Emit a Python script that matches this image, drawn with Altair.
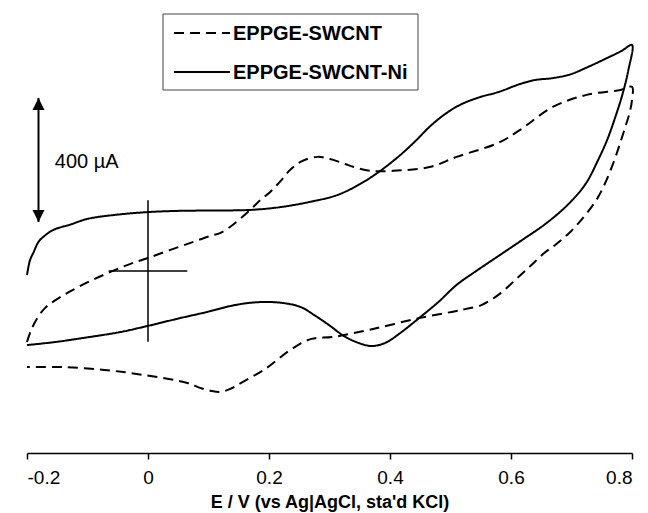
import altair as alt
import pandas as pd

# Cyclic voltammograms: potential (V vs Ag|AgCl) and current (µA), in scan order
ni_potential = [
    -0.200, -0.195, -0.189, -0.181, -0.173, -0.157, -0.128, -0.100, -0.054, 0.000,
    0.053, 0.103, 0.169, 0.219, 0.268, 0.313, 0.351, 0.384, 0.417, 0.442,
    0.467, 0.491, 0.516, 0.549, 0.579, 0.615, 0.640, 0.669, 0.698, 0.725,
    0.758, 0.783, 0.800,
    0.794, 0.784, 0.772, 0.759, 0.744, 0.723, 0.693, 0.657, 0.620, 0.579,
    0.541, 0.510, 0.480, 0.448, 0.417, 0.392, 0.369, 0.348, 0.324, 0.301,
    0.277, 0.252, 0.222, 0.194, 0.167, 0.136, 0.098, 0.053, 0.000, -0.046,
    -0.107, -0.153, -0.200,
]
ni_current = [
    -13, 35, 61, 94, 110, 132, 150, 168, 181, 190,
    194, 195, 197, 206, 223, 245, 281, 323, 374, 419,
    468, 506, 536, 561, 577, 603, 616, 622, 634, 656,
    686, 710, 729,
    648, 568, 494, 423, 358, 280, 212, 152, 102, 48,
    -2, -45, -100, -152, -200, -232, -242, -232, -210, -177,
    -145, -116, -103, -100, -103, -113, -132, -152, -177, -197,
    -216, -229, -239,
]

swcnt_potential = [
    -0.200, -0.193, -0.183, -0.170, -0.153, -0.128, -0.095, -0.062, -0.029, 0.000,
    0.037, 0.075, 0.103, 0.120, 0.141, 0.169, 0.186, 0.202, 0.219, 0.235,
    0.252, 0.280, 0.301, 0.326, 0.339, 0.367, 0.405, 0.467, 0.510, 0.579,
    0.615, 0.669, 0.725, 0.781, 0.800,
    0.800, 0.796, 0.789, 0.781, 0.771, 0.758, 0.743, 0.723, 0.698, 0.673,
    0.655, 0.632, 0.607, 0.579, 0.551, 0.524, 0.510, 0.448, 0.372, 0.305,
    0.270, 0.235, 0.196, 0.154, 0.136, 0.120, 0.103, 0.086, 0.065, -0.005,
    -0.072, -0.142, -0.200,
]
swcnt_current = [
    -229, -190, -152, -119, -94, -65, -32, -3, 23, 42,
    68, 94, 113, 123, 150, 197, 229, 255, 290, 326,
    352, 368, 361, 345, 336, 323, 323, 336, 368, 413,
    455, 529, 568, 584, 594,
    552, 510, 465, 416, 358, 294, 235, 181, 126, 84,
    58, 16, -29, -77, -110, -123, -129, -152, -187, -213,
    -219, -255, -313, -361, -380, -390, -386, -377, -361, -336,
    -319, -310, -310,
]

series_names = ["EPPGE-SWCNT", "EPPGE-SWCNT-Ni"]
series_dashes = [[10, 6], [1, 0]]

x_ticks = [-0.2, 0, 0.2, 0.4, 0.6, 0.8]
x_title = "E / V (vs Ag|AgCl, sta'd KCl)"
x_domain = [-0.2, 0.8]
y_domain = [-587, 832]

# 400 µA scale bar
scale_bar_potential = -0.181
scale_bar_start = 158
scale_bar_length = 400
scale_bar_label = "400 µA"
scale_label_potential = -0.154
scale_label_current = 352

# crosshair marking E = 0, I = 0
cross_potential = [-0.065, 0.065]
cross_current = [-228, 228]

FONT = "Liberation Sans"

rows = []
for name, pot, cur in [
    (series_names[0], swcnt_potential, swcnt_current),
    (series_names[1], ni_potential, ni_current),
]:
    for i, (e, c) in enumerate(zip(pot, cur)):
        rows.append({"series": name, "idx": i, "E": e, "I": c})
curves_df = pd.DataFrame(rows)

x_scale = alt.Scale(domain=x_domain, nice=False, zero=False)
y_scale = alt.Scale(domain=y_domain, nice=False, zero=False)

x_axis = alt.Axis(
    values=x_ticks,
    title=x_title,
    labelExpr="datum.value == 0 ? '0' : (datum.value < 0 ? '-' : '') + format(abs(datum.value), '.1f')",
    grid=False,
    domainColor="black",
    domainWidth=1.5,
    tickColor="black",
    tickWidth=1.5,
    tickSize=6,
    labelFont=FONT,
    labelFontSize=19,
    labelColor="black",
    labelPadding=9,
    titleFont=FONT,
    titleFontSize=18,
    titleFontWeight="bold",
    titleColor="black",
    titlePadding=6,
)

curves = (
    alt.Chart(curves_df)
    .mark_line(color="black", strokeWidth=2, interpolate="catmull-rom")
    .encode(
        x=alt.X("E:Q", scale=x_scale, axis=x_axis),
        y=alt.Y("I:Q", scale=y_scale, axis=None),
        strokeDash=alt.StrokeDash(
            "series:N",
            scale=alt.Scale(domain=series_names, range=series_dashes),
            legend=None,
        ),
        detail="series:N",
        order="idx:Q",
    )
)

# scale bar with arrowheads at both ends
bar_df = pd.DataFrame(
    {
        "E": [scale_bar_potential],
        "I0": [scale_bar_start],
        "I1": [scale_bar_start + scale_bar_length],
    }
)
bar_rule = (
    alt.Chart(bar_df)
    .mark_rule(color="black", strokeWidth=2)
    .encode(
        x=alt.X("E:Q", scale=x_scale),
        y=alt.Y("I0:Q", scale=y_scale),
        y2="I1:Q",
    )
)
heads_df = pd.DataFrame(
    {
        "E": [scale_bar_potential, scale_bar_potential],
        "I": [scale_bar_start + scale_bar_length, scale_bar_start],
        "dir": ["up", "down"],
    }
)
heads = (
    alt.Chart(heads_df)
    .mark_point(filled=True, color="black", opacity=1, size=576, strokeWidth=0)
    .encode(
        x=alt.X("E:Q", scale=x_scale),
        y=alt.Y("I:Q", scale=y_scale),
        shape=alt.Shape(
            "dir:N",
            scale=alt.Scale(
                domain=["up", "down"],
                range=["M0,0 L-0.5,1 L0.5,1 Z", "M0,0 L-0.5,-1 L0.5,-1 Z"],
            ),
            legend=None,
        ),
    )
)
bar_label = (
    alt.Chart(pd.DataFrame({"E": [scale_label_potential], "I": [scale_label_current], "t": [scale_bar_label]}))
    .mark_text(align="left", baseline="middle", font=FONT, fontSize=20, color="black")
    .encode(x=alt.X("E:Q", scale=x_scale), y=alt.Y("I:Q", scale=y_scale), text="t:N")
)

# origin crosshair
cross_v = (
    alt.Chart(pd.DataFrame({"E": [0.0], "I0": [cross_current[0]], "I1": [cross_current[1]]}))
    .mark_rule(color="black", strokeWidth=1.5)
    .encode(x=alt.X("E:Q", scale=x_scale), y=alt.Y("I0:Q", scale=y_scale), y2="I1:Q")
)
cross_h = (
    alt.Chart(pd.DataFrame({"I": [0.0], "E0": [cross_potential[0]], "E1": [cross_potential[1]]}))
    .mark_rule(color="black", strokeWidth=1.5)
    .encode(y=alt.Y("I:Q", scale=y_scale), x=alt.X("E0:Q", scale=x_scale), x2="E1:Q")
)

# legend box drawn in view pixels
one = pd.DataFrame({"a": [0]})
legend_layers = [
    alt.Chart(one)
    .mark_rect(fill="white", stroke="#444444", strokeWidth=1)
    .encode(x=alt.value(136), x2=alt.value(391), y=alt.value(1), y2=alt.value(77))
]
for k, (name, dash) in enumerate(zip(series_names, series_dashes)):
    row_y = 20 + 39 * k
    legend_layers.append(
        alt.Chart(one)
        .mark_rule(color="black", strokeWidth=2, strokeDash=dash)
        .encode(x=alt.value(147), x2=alt.value(203), y=alt.value(row_y))
    )
    legend_layers.append(
        alt.Chart(one)
        .mark_text(
            text=name,
            align="left",
            baseline="middle",
            font=FONT,
            fontSize=20,
            fontWeight="bold",
            color="black",
        )
        .encode(x=alt.value(206), y=alt.value(row_y + 1))
    )

chart = (
    alt.layer(curves, cross_v, cross_h, bar_rule, heads, bar_label, *legend_layers)
    .properties(
        width=605,
        height=440,
        autosize=alt.AutoSizeParams(type="none"),
        padding={"left": 27, "top": 13, "right": 16, "bottom": 60},
        background="white",
    )
    .configure_view(strokeWidth=0)
)

chart.save("out.html", embed_options={"renderer": "svg", "actions": False})
